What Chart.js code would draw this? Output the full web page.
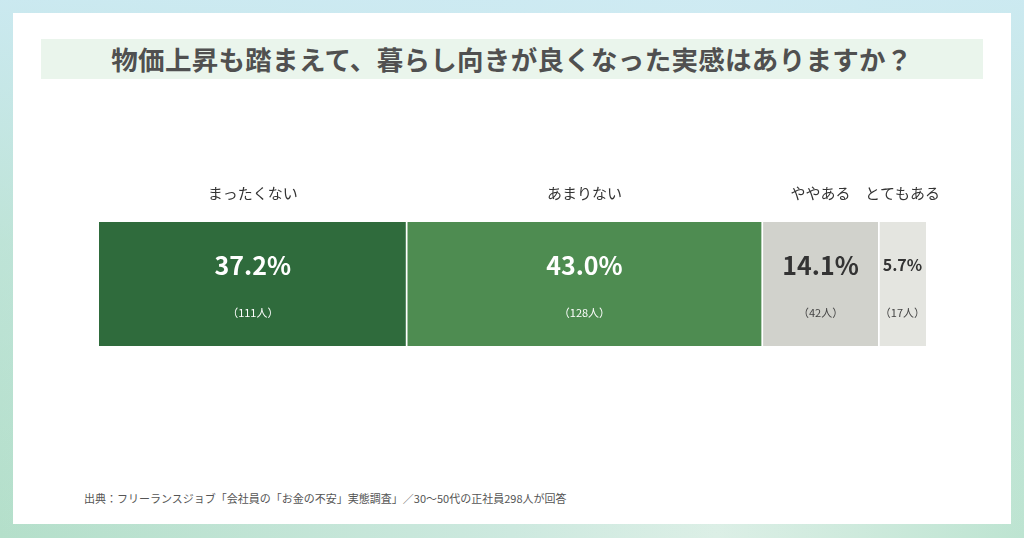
<!DOCTYPE html>
<html lang="ja">
<head>
<meta charset="utf-8">
<script src="https://cdn.jsdelivr.net/npm/chart.js@4.4.1/dist/chart.umd.min.js"></script>
<style>
  html, body { margin:0; padding:0; width:1024px; height:538px; overflow:hidden; }
  body {
    font-family: "Noto Sans CJK JP", "Noto Sans", sans-serif;
    background:
      linear-gradient(180deg, rgba(205,234,244,0.9) 0%, rgba(200,232,228,0.5) 45%, rgba(180,223,202,0) 100%),
      linear-gradient(90deg, #b4dfca 0%, #cde9df 50%, #dcefe6 70%, #bde4d1 100%);
    position: relative;
  }
  .card { position:absolute; left:13px; top:13px; width:998px; height:511px; background:#fff; }
  .title { position:absolute; left:41px; top:39px; width:942px; height:40px; background:#eaf5ec;
    color:#505050; font-size:26.5px; font-weight:700; line-height:40px; text-align:center; letter-spacing:0.3px; }
  .src { position:absolute; left:84px; top:490px; font-size:11px; color:#555; }
  canvas { position:absolute; left:0; top:0; }
</style>
</head>
<body>
<div class="card"></div>
<div class="title">物価上昇も踏まえて、暮らし向きが良くなった実感はありますか？</div>
<div class="src">出典：フリーランスジョブ「会社員の「お金の不安」実態調査」／30〜50代の正社員298人が回答</div>
<div style="position:absolute;left:0;top:0;width:1024px;height:538px;">
<canvas id="c"></canvas>
</div>
<script>
const categories = ["まったくない", "あまりない", "ややある", "とてもある"];
const percents = [37.2, 43.0, 14.1, 5.7];
const counts = [111, 128, 42, 17];
const percentLabels = ["37.2%", "43.0%", "14.1%", "5.7%"];
const countLabels = ["（111人）", "（128人）", "（42人）", "（17人）"];
const colors = ["#2f6b3c", "#4e8c51", "#d1d2cc", "#e4e5e0"];
const textColors = ["#ffffff", "#ffffff", "#333333", "#333333"];
const pctSizes = [25, 25, 25, 16];
const FONT = '"Noto Sans CJK JP", "Noto Sans", sans-serif';

const labelPlugin = {
  id: 'segLabels',
  afterDatasetsDraw(chart) {
    const ctx = chart.ctx;
    ctx.save();
    ctx.textAlign = 'center';
    ctx.textBaseline = 'middle';
    chart.data.datasets.forEach((ds, i) => {
      const bar = chart.getDatasetMeta(i).data[0];
      const cx = (bar.x + bar.base) / 2;
      ctx.fillStyle = '#333';
      ctx.font = '400 15px ' + FONT;
      ctx.fillText(categories[i], cx, 193);
      ctx.fillStyle = textColors[i];
      ctx.font = '700 ' + pctSizes[i] + 'px ' + FONT;
      ctx.fillText(percentLabels[i], cx, 265);
      ctx.font = '400 11px ' + FONT;
      ctx.fillStyle = i < 2 ? '#ffffff' : '#444';
      ctx.fillText(countLabels[i], cx, 313);
    });
    ctx.restore();
  }
};

new Chart(document.getElementById('c'), {
  type: 'bar',
  data: {
    labels: ["回答"],
    datasets: categories.map((c, i) => ({
      label: c,
      data: [percents[i]],
      backgroundColor: colors[i],
      borderColor: '#ffffff',
      borderWidth: { left: i === 0 ? 0 : 1.2, right: i === categories.length - 1 ? 0 : 1.2, top: 0, bottom: 0 },
      borderSkipped: false,
      barPercentage: 1,
      categoryPercentage: 1
    }))
  },
  options: {
    indexAxis: 'y',
    responsive: true,
    maintainAspectRatio: false,
    animation: false,
    layout: { padding: { left: 99, right: 98, top: 222, bottom: 192 } },
    scales: {
      x: { stacked: true, min: 0, max: 100, display: false },
      y: { stacked: true, display: false }
    },
    plugins: { legend: { display: false }, tooltip: { enabled: false } }
  },
  plugins: [labelPlugin]
});
</script>
</body>
</html>
